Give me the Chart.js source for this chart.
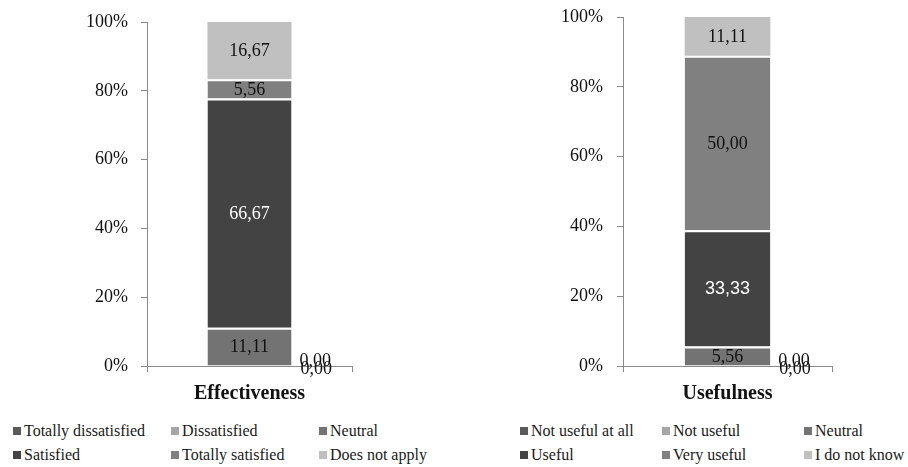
<!DOCTYPE html>
<html>
<head>
<meta charset="utf-8">
<script src="https://cdn.jsdelivr.net/npm/chart.js@4.4.0/dist/chart.umd.min.js"></script>
<style>
  html, body { margin: 0; padding: 0; background: #fff; }
  #wrap { position: relative; width: 908px; height: 467px; overflow: hidden; font-family: "Liberation Serif", serif; }
  .box { position: absolute; top: 0; width: 454px; height: 410px; }
  .legend { position: absolute; font-size: 16px; color: #1a1a1a; }
  .item { position: absolute; white-space: nowrap; line-height: 18px; }
  .item i { display: inline-block; width: 8px; height: 8px; margin-right: 3px; vertical-align: 1px; }
</style>
</head>
<body>
<div id="wrap">
  <div class="box" style="left:0"><canvas id="c1" width="454" height="410"></canvas></div>
  <div class="box" style="left:454px"><canvas id="c2" width="454" height="410"></canvas></div>
  <div class="legend" id="lg1"></div>
  <div class="legend" id="lg2"></div>
</div>
<script>
// ---- data ----
const effCategories = ['Effectiveness'];
const effSeries = ['Totally dissatisfied', 'Dissatisfied', 'Neutral', 'Satisfied', 'Totally satisfied', 'Does not apply'];
const effValues = [0.00, 0.00, 11.11, 66.67, 5.56, 16.67];

const useCategories = ['Usefulness'];
const useSeries = ['Not useful at all', 'Not useful', 'Neutral', 'Useful', 'Very useful', 'I do not know'];
const useValues = [0.00, 0.00, 5.56, 33.33, 50.00, 11.11];

const yTickValues = [0, 20, 40, 60, 80, 100];

// ---- styling ----
const segColors = ['#595959', '#a6a6a6', '#737373', '#434343', '#808080', '#c0c0c0'];
const labelColors = ['#111', '#111', '#111', '#ffffff', '#111', '#111'];
const axisColor = '#8a8a8a';
const serif = '"Liberation Serif", serif';

const fmt = v => v.toFixed(2).replace('.', ',');

// value labels: centred in each segment; empty segments are labelled beside the bar foot
const valueLabels = {
  id: 'valueLabels',
  afterDatasetsDraw(chart) {
    const ctx = chart.ctx;
    let zeroCount = 0;
    chart.data.datasets.forEach((ds, di) => {
      const meta = chart.getDatasetMeta(di);
      meta.data.forEach((bar, i) => {
        const v = ds.data[i];
        const p = bar.getProps(['x', 'y', 'base', 'width'], true);
        ctx.save();
        ctx.font = '18px ' + (ds.labelFamily || serif);
        ctx.textBaseline = 'middle';
        if (v === 0) {
          ctx.fillStyle = '#111';
          ctx.textAlign = 'left';
          ctx.fillText(fmt(v), p.x + p.width / 2 + 8 + zeroCount, p.base - 5 + zeroCount * 8);
          zeroCount++;
        } else {
          ctx.fillStyle = labelColors[di];
          ctx.textAlign = 'center';
          ctx.fillText(fmt(v), p.x, (p.y + p.base) / 2 + 1);
        }
        ctx.restore();
      });
    });
  }
};

function makeChart(id, categories, series, values, opts) {
  const last = series.length - 1;
  const datasets = series.map((name, i) => ({
    label: name,
    data: [values[i]],
    backgroundColor: segColors[i],
    borderColor: '#ffffff',
    // thin white separator on top of every segment except the uppermost one
    borderWidth: { top: i === last ? 0 : 2, left: 0, right: 0, bottom: 0 },
    borderSkipped: false,
    barPercentage: 0.41,
    categoryPercentage: 1,
    labelFamily: (opts.sansLabel === i) ? '"Liberation Sans", sans-serif' : null
  }));
  return new Chart(document.getElementById(id), {
    type: 'bar',
    data: { labels: categories, datasets },
    options: {
      responsive: false,
      animation: false,
      events: [],
      layout: { padding: { top: opts.top, right: opts.right, left: 0, bottom: 0 } },
      plugins: { legend: { display: false }, tooltip: { enabled: false } },
      scales: {
        x: {
          stacked: true,
          grid: { display: true, offset: true, drawOnChartArea: false, drawTicks: true, tickLength: 6, color: axisColor },
          border: { display: true, color: axisColor, width: 1 },
          ticks: { color: '#111', padding: 10, font: { family: serif, size: 20, weight: 'bold' } },
          afterFit: s => { s.height = 44; }
        },
        y: {
          stacked: true,
          min: 0, max: 100,
          afterBuildTicks: s => { s.ticks = yTickValues.map(v => ({ value: v })); },
          grid: { display: true, drawOnChartArea: false, drawTicks: true, tickLength: 6, color: axisColor },
          border: { display: true, color: axisColor, width: 1 },
          ticks: { color: '#111', padding: opts.tickPad, font: { family: serif, size: 18 }, callback: v => v + '%' },
          afterFit: s => { s.width = opts.yWidth; s.paddingTop = 0; s.paddingBottom = 0; }
        }
      }
    },
    plugins: [valueLabels]
  });
}

makeChart('c1', effCategories, effSeries, effValues, { top: 22, right: 102, yWidth: 147, tickPad: 13 });
makeChart('c2', useCategories, useSeries, useValues, { top: 17, right: 76, yWidth: 169, tickPad: 14, sansLabel: 3 });

// legends in a 3-column grid built from the series names and colours
function buildLegend(elId, series, cols, rowsY) {
  const el = document.getElementById(elId);
  series.forEach((name, i) => {
    const d = document.createElement('div');
    d.className = 'item';
    d.style.left = cols[i % 3] + 'px';
    d.style.top = (rowsY[Math.floor(i / 3)] - 9) + 'px';
    const sw = document.createElement('i');
    sw.style.background = segColors[i];
    d.appendChild(sw);
    d.appendChild(document.createTextNode(name));
    el.appendChild(d);
  });
}
buildLegend('lg1', effSeries, [13, 171, 319], [431, 455]);
buildLegend('lg2', useSeries, [520, 662, 804], [431, 455]);
</script>
</body>
</html>
